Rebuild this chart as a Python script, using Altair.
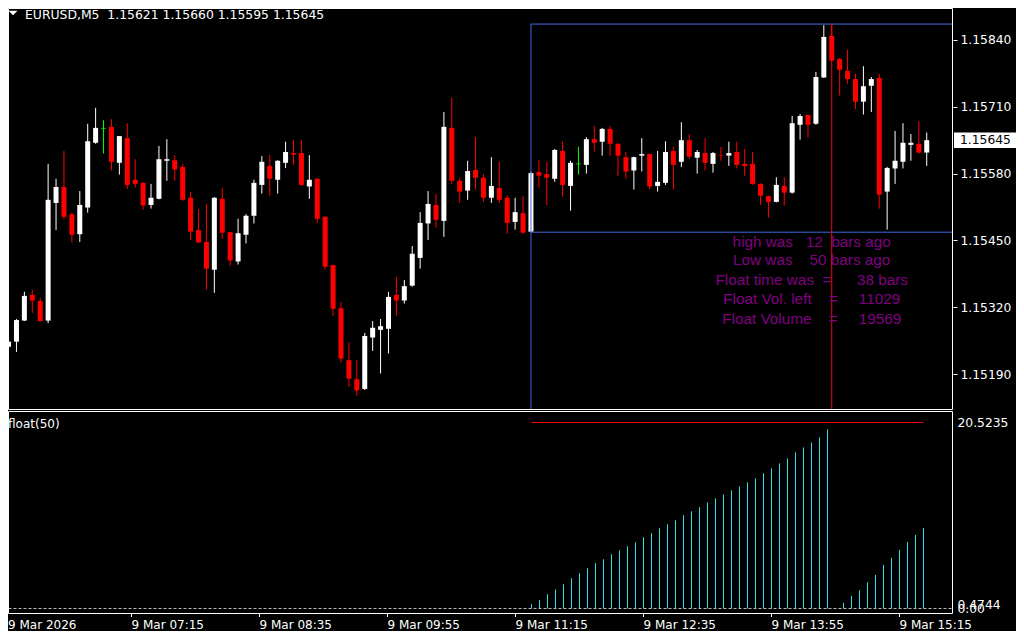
import altair as alt
import pandas as pd

# ---------------- data ----------------
opens = [1.15243, 1.15253, 1.15294, 1.15344, 1.15332, 1.15294, 1.15523, 1.15554, 1.15501, 1.15462,
         1.15514, 1.15640, 1.15668, 1.15671, 1.15601, 1.15649, 1.15568, 1.15562, 1.15519, 1.15531,
         1.15605, 1.15606, 1.15593, 1.15533, 1.15470, 1.15447, 1.15393, 1.15531, 1.15466, 1.15409,
         1.15461, 1.15498, 1.15558, 1.15595, 1.15568, 1.15601, 1.15620, 1.15620, 1.15555, 1.15570,
         1.15496, 1.15402, 1.15318, 1.15217, 1.15180, 1.15161, 1.15261, 1.15276, 1.15278, 1.15344,
         1.15333, 1.15362, 1.15416, 1.15483, 1.15519, 1.15488, 1.15669, 1.15566, 1.15547, 1.15587,
         1.15572, 1.15533, 1.15552, 1.15533, 1.15486, 1.15503, 1.15467, 1.15583, 1.15579, 1.15570,
         1.15624, 1.15556, 1.15599, 1.15597, 1.15647, 1.15642, 1.15667, 1.15638, 1.15612, 1.15586,
         1.15615, 1.15618, 1.15556, 1.15562, 1.15624, 1.15603, 1.15645, 1.15611, 1.15620, 1.15599,
         1.15616, 1.15615, 1.15622, 1.15599, 1.15599, 1.15560, 1.15536, 1.15525, 1.15556, 1.15543,
         1.15675, 1.15694, 1.15677, 1.15767, 1.15848, 1.15803, 1.15780, 1.15764, 1.15720, 1.15751,
         1.15766, 1.15545, 1.15590, 1.15603, 1.15636, 1.15638, 1.15621]
highs = [1.15260, 1.15297, 1.15350, 1.15354, 1.15338, 1.15599, 1.15570, 1.15624, 1.15504, 1.15546,
         1.15677, 1.15708, 1.15684, 1.15686, 1.15653, 1.15678, 1.15608, 1.15564, 1.15560, 1.15634,
         1.15647, 1.15616, 1.15599, 1.15544, 1.15511, 1.15521, 1.15534, 1.15552, 1.15467, 1.15492,
         1.15501, 1.15568, 1.15614, 1.15616, 1.15606, 1.15642, 1.15645, 1.15645, 1.15616, 1.15571,
         1.15497, 1.15403, 1.15330, 1.15252, 1.15217, 1.15270, 1.15293, 1.15297, 1.15350, 1.15379,
         1.15373, 1.15439, 1.15505, 1.15546, 1.15540, 1.15700, 1.15727, 1.15571, 1.15605, 1.15651,
         1.15579, 1.15612, 1.15603, 1.15538, 1.15533, 1.15536, 1.15583, 1.15606, 1.15603, 1.15628,
         1.15643, 1.15605, 1.15632, 1.15651, 1.15673, 1.15669, 1.15673, 1.15639, 1.15622, 1.15613,
         1.15649, 1.15619, 1.15624, 1.15643, 1.15632, 1.15680, 1.15657, 1.15626, 1.15649, 1.15622,
         1.15632, 1.15642, 1.15642, 1.15628, 1.15622, 1.15561, 1.15537, 1.15573, 1.15573, 1.15692,
         1.15696, 1.15695, 1.15778, 1.15869, 1.15871, 1.15805, 1.15821, 1.15774, 1.15789, 1.15768,
         1.15774, 1.15593, 1.15663, 1.15678, 1.15657, 1.15682, 1.15660]
lows = [1.15239, 1.15233, 1.15293, 1.15309, 1.15292, 1.15289, 1.15470, 1.15491, 1.15446, 1.15447,
        1.15504, 1.15638, 1.15619, 1.15586, 1.15578, 1.15550, 1.15553, 1.15510, 1.15512, 1.15530,
        1.15566, 1.15566, 1.15527, 1.15451, 1.15445, 1.15354, 1.15348, 1.15453, 1.15401, 1.15403,
        1.15444, 1.15483, 1.15541, 1.15537, 1.15541, 1.15591, 1.15597, 1.15556, 1.15531, 1.15484,
        1.15393, 1.15303, 1.15212, 1.15165, 1.15148, 1.15159, 1.15235, 1.15191, 1.15230, 1.15303,
        1.15327, 1.15360, 1.15395, 1.15451, 1.15475, 1.15457, 1.15560, 1.15523, 1.15529, 1.15549,
        1.15525, 1.15523, 1.15523, 1.15463, 1.15471, 1.15463, 1.15466, 1.15553, 1.15519, 1.15564,
        1.15535, 1.15508, 1.15578, 1.15580, 1.15623, 1.15615, 1.15615, 1.15576, 1.15570, 1.15549,
        1.15584, 1.15549, 1.15545, 1.15558, 1.15549, 1.15593, 1.15609, 1.15580, 1.15586, 1.15582,
        1.15605, 1.15595, 1.15590, 1.15576, 1.15558, 1.15519, 1.15494, 1.15524, 1.15518, 1.15541,
        1.15646, 1.15650, 1.15675, 1.15766, 1.15798, 1.15732, 1.15755, 1.15706, 1.15695, 1.15700,
        1.15512, 1.15471, 1.15560, 1.15590, 1.15605, 1.15619, 1.15595]
closes = [1.15253, 1.15295, 1.15342, 1.15333, 1.15293, 1.15529, 1.15554, 1.15496, 1.15461, 1.15519,
          1.15643, 1.15669, 1.15668, 1.15603, 1.15653, 1.15558, 1.15560, 1.15518, 1.15533, 1.15608,
          1.15608, 1.15588, 1.15529, 1.15467, 1.15446, 1.15395, 1.15533, 1.15465, 1.15411, 1.15464,
          1.15498, 1.15562, 1.15603, 1.15570, 1.15605, 1.15622, 1.15617, 1.15558, 1.15568, 1.15492,
          1.15399, 1.15317, 1.15220, 1.15181, 1.15158, 1.15264, 1.15280, 1.15283, 1.15340, 1.15333,
          1.15361, 1.15424, 1.15484, 1.15521, 1.15490, 1.15671, 1.15566, 1.15545, 1.15585, 1.15572,
          1.15533, 1.15556, 1.15529, 1.15484, 1.15505, 1.15465, 1.15581, 1.15576, 1.15572, 1.15626,
          1.15558, 1.15601, 1.15599, 1.15647, 1.15640, 1.15667, 1.15638, 1.15615, 1.15584, 1.15612,
          1.15618, 1.15555, 1.15564, 1.15622, 1.15597, 1.15645, 1.15613, 1.15622, 1.15601, 1.15620,
          1.15615, 1.15620, 1.15597, 1.15595, 1.15560, 1.15537, 1.15525, 1.15558, 1.15543, 1.15678,
          1.15692, 1.15675, 1.15768, 1.15846, 1.15800, 1.15782, 1.15764, 1.15720, 1.15750, 1.15764,
          1.15539, 1.15591, 1.15605, 1.15640, 1.15640, 1.15621, 1.15645]
bar_index = list(range(len(opens)))

# float(50) indicator histogram
float_bars_1 = list(range(66, 104))
float_values_1 = [0.48, 0.92, 1.58, 2.09, 2.68, 3.34, 3.89, 4.44, 4.99, 5.43,
                  5.99, 6.43, 6.87, 7.31, 7.86, 8.30, 8.85, 9.29, 9.73, 10.28,
                  10.72, 11.16, 11.71, 12.15, 12.59, 13.04, 13.48, 13.92, 14.36, 14.91,
                  15.46, 16.01, 16.56, 17.22, 17.77, 18.32, 18.87, 19.76]
float_bars_2 = list(range(105, 116))
float_values_2 = [0.62, 1.40, 2.02, 2.90, 3.71, 4.81, 5.58, 6.46, 7.34, 8.12, 8.89]
float_level = 20.5235
float_low_label = 0.4744
float_line_start = 66
float_line_end = 115

box_start_bar = 66
high_bar = 104
box_high = 1.15871
box_low = 1.15466

high_bars_ago = 12
low_bars_ago = 50
float_time = 38
float_vol_left = 11029
float_volume = 19569

price_ticks = [1.15190, 1.15320, 1.15450, 1.15580, 1.15710, 1.15840]
time_tick_bars = [0, 16, 32, 48, 64, 80, 96, 112]
time_tick_labels = ["9 Mar 2026", "9 Mar 07:15", "9 Mar 08:35", "9 Mar 09:55",
                    "9 Mar 11:15", "9 Mar 12:35", "9 Mar 13:55", "9 Mar 15:15"]
symbol = "EURUSD,M5"

# ---------------- layout / style ----------------
W, H1, H2 = 945, 402, 203
NB = "\u00a0"
BLUE = "#4169e1"
CYAN = "#2ee0ee"
PURPLE = "#800080"
AXFONT = "DejaVu Sans"

xsc = alt.Scale(domain=[0.5625, 0.5625 + W / 8], nice=False, zero=False)
ysc = alt.Scale(domain=[1.1511998, 1.1590227], nice=False, zero=False)
yax = alt.Axis(orient="right", values=price_ticks, format=".5f", title=None, grid=False,
               domain=False, tickColor="white", tickSize=4, labelPadding=3,
               labelColor="white", labelFont=AXFONT, labelFontSize=12.3,
               labelBaseline="middle", labelOverlap=False, labelFlush=False)


def XQ(f):
    return alt.X(f + ":Q", scale=xsc, axis=None)


def YP(f):
    return alt.Y(f + ":Q", scale=ysc, axis=yax)


def direction(o, c):
    if c > o:
        return "up"
    if c < o:
        return "down"
    return "doji"


def frame(width, height):
    one = alt.Chart(pd.DataFrame({"a": [0]}))
    return [
        one.mark_rule(color="white").encode(x=alt.value(0.5), y=alt.value(0.5), y2=alt.value(height - 0.5)),
        one.mark_rule(color="white").encode(x=alt.value(width - 0.5), y=alt.value(0.5), y2=alt.value(height - 0.5)),
        one.mark_rule(color="white").encode(x=alt.value(0.5), x2=alt.value(width - 0.5), y=alt.value(0.5)),
        one.mark_rule(color="white").encode(x=alt.value(0.5), x2=alt.value(width - 0.5), y=alt.value(height - 0.5)),
    ]


candles = pd.DataFrame({"i": bar_index, "open": opens, "high": highs, "low": lows, "close": closes})
candles["dir"] = [direction(o, c) for o, c in zip(opens, closes)]
col = alt.Color("dir:N", scale=alt.Scale(domain=["up", "down", "doji"],
                                          range=["#ffffff", "#ff0000", "#00ff00"]), legend=None)

base = alt.Chart(candles)
wicks = base.mark_rule(strokeWidth=1, clip=True).encode(x=XQ("i"), y=YP("low"), y2="high:Q", color=col)
bodies = base.transform_filter("datum.dir != 'doji'").mark_bar(size=5, clip=True).encode(
    x=XQ("i"), y=YP("open"), y2="close:Q", color=col)
dojis = base.transform_filter("datum.dir == 'doji'").mark_tick(
    orient="horizontal", size=5, thickness=1, clip=True).encode(x=XQ("i"), y=YP("open"), color=col)

box_df = pd.DataFrame({"x0": [box_start_bar], "hb": [high_bar], "top": [box_high], "bot": [box_low]})
bx = alt.Chart(box_df)
box_top = bx.mark_rule(color=BLUE).encode(x=XQ("x0"), x2=alt.value(W - 0.5), y=YP("top"))
box_bot = bx.mark_rule(color=BLUE).encode(x=XQ("x0"), x2=alt.value(W - 0.5), y=YP("bot"))
box_left = bx.mark_rule(color=BLUE).encode(x=XQ("x0"), y=YP("top"), y2=alt.value(H1 - 0.5))
high_line = bx.mark_rule(color="#ff0000").encode(x=XQ("hb"), y=YP("top"), y2=alt.value(H1 - 0.5))

info_lines = [
    f"high was{NB*3}{high_bars_ago}{NB*2}bars ago",
    f"Low was{NB*4}{low_bars_ago} bars ago",
    f"Float time was{NB*2}={NB*6}{float_time} bars",
    f"Float Vol. left{NB*4}={NB*5}{float_vol_left}",
    f"Float Volume{NB*4}={NB*5}{float_volume}",
]
info_y = [233.7, 252, 272, 291, 311]
info_layers = []
for txt, ty in zip(info_lines, info_y):
    info_layers.append(
        alt.Chart(pd.DataFrame({"t": [txt]})).mark_text(
            align="center", baseline="middle", font="Liberation Sans", fontSize=15.3, color=PURPLE
        ).encode(x=alt.value(803.7), y=alt.value(ty), text="t:N"))

header_txt = f"{symbol}{NB*2}{opens[-1]:.5f} {highs[-1]:.5f} {lows[-1]:.5f} {closes[-1]:.5f}"
header = alt.Chart(pd.DataFrame({"t": [header_txt]})).mark_text(
    align="left", baseline="middle", font=AXFONT, fontSize=12.4, color="white"
).encode(x=alt.value(17), y=alt.value(7), text="t:N")
tri = alt.Chart(pd.DataFrame({"t": [0]})).mark_point(
    shape="M-1,-0.5L1,-0.5L0,0.5Z", size=81, filled=True, color="white", opacity=1
).encode(x=alt.value(5), y=alt.value(5))

last_df = pd.DataFrame({"p": [closes[-1]], "lab": [f"{closes[-1]:.5f}"]})
price_box = alt.Chart(last_df).mark_point(
    shape="M-1,-0.25L1,-0.25L1,0.25L-1,0.25Z", size=3844, filled=True, color="white", opacity=1
).encode(x=alt.value(W + 32), y=YP("p"))
price_lab = alt.Chart(last_df).mark_text(
    align="left", baseline="middle", font=AXFONT, fontSize=12.3, color="black"
).encode(x=alt.value(W + 7), y=YP("p"), text="lab:N")

top = alt.layer(wicks, bodies, dojis, box_top, box_bot, box_left, high_line,
                *info_layers, header, tri, price_box, price_lab, *frame(W, H1)
                ).properties(width=W, height=H1)

# ---------------- lower panel ----------------
ysc2 = alt.Scale(domain=[-0.6069, 21.792], nice=False, zero=False)
yax2 = alt.Axis(orient="right", values=[0, float_low_label, float_level],
                labelExpr="datum.value == 0 ? '0.00' : format(datum.value, '.4f')",
                title=None, grid=False, domain=False, ticks=False, labelPadding=4,
                labelColor="white", labelFont=AXFONT, labelFontSize=12.3,
                labelBaseline="middle", labelOverlap=False, labelFlush=False)


def YF(f):
    return alt.Y(f + ":Q", scale=ysc2, axis=yax2)


hist_df = pd.DataFrame({"i": float_bars_1 + float_bars_2,
                        "v": float_values_1 + float_values_2})
hist_df["base"] = 0.0
hist = alt.Chart(hist_df).mark_rule(color=CYAN, strokeWidth=1).encode(
    x=XQ("i"), y=YF("v"), y2="base:Q")

lvl_df = pd.DataFrame({"x0": [float_line_start], "x1": [float_line_end], "v": [float_level], "z": [0.0]})
lvl = alt.Chart(lvl_df).mark_rule(color="#ff0000", strokeWidth=1).encode(
    x=XQ("x0"), x2="x1:Q", y=YF("v"))
zero = alt.Chart(lvl_df).mark_rule(color="#bbbbbb", strokeDash=[3, 2], strokeWidth=1).encode(
    x=alt.value(0.5), x2=alt.value(W - 0.5), y=YF("z"))

ind_name = alt.Chart(pd.DataFrame({"t": ["float(50)"]})).mark_text(
    align="left", baseline="middle", font=AXFONT, fontSize=12, color="white"
).encode(x=alt.value(0), y=alt.value(13), text="t:N")

tick_df = pd.DataFrame({"i": time_tick_bars[1:], "lab": time_tick_labels[1:]})
xticks = alt.Chart(tick_df).mark_rule(color="white").encode(
    x=XQ("i"), y=alt.value(H2), y2=alt.value(H2 + 3))
xlabels = alt.Chart(tick_df).mark_text(
    align="left", baseline="middle", font=AXFONT, fontSize=12, color="white"
).encode(x=XQ("i"), y=alt.value(H2 + 11), text="lab:N")
first_label = alt.Chart(pd.DataFrame({"lab": [time_tick_labels[0]]})).mark_text(
    align="left", baseline="middle", font=AXFONT, fontSize=12, color="white"
).encode(x=alt.value(0), y=alt.value(H2 + 11), text="lab:N")

bottom = alt.layer(zero, hist, lvl, ind_name, xticks, xlabels, first_label,
                   *frame(W, H2)).properties(width=W, height=H2)

chart = alt.vconcat(top, bottom, spacing=1, bounds="flush").properties(
    padding={"left": 0, "top": 0, "right": 0, "bottom": 0}
).configure(background="black").configure_view(stroke="transparent", strokeWidth=0)

chart.save("out.html", embed_options={"renderer": "svg", "actions": False})
